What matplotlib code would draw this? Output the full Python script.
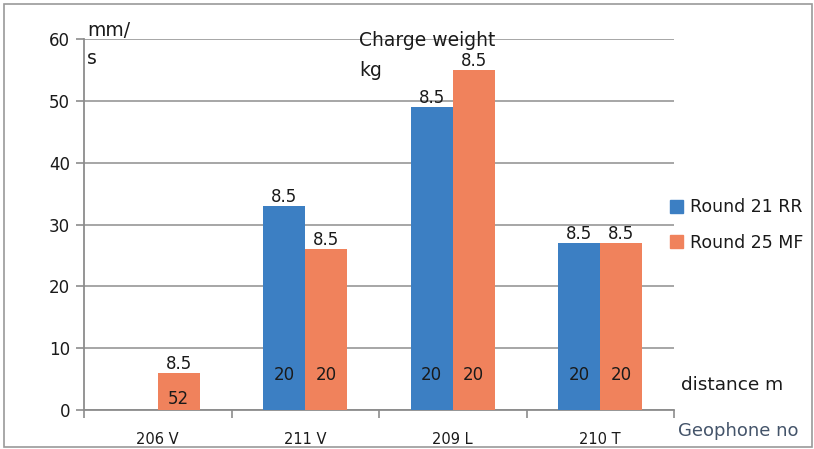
import numpy as np
import matplotlib.pyplot as plt
from matplotlib.patches import Rectangle, Patch

plt.rcParams['font.family'] = ['DejaVu Sans']

# data
geophones = ['206 V', '211 V', '209 L', '210 T']
round21 = [0, 33, 49, 27]
round25 = [6, 26, 55, 27]
charge21 = [None, '8.5', '8.5', '8.5']
charge25 = ['8.5', '8.5', '8.5', '8.5']
dist21 = [None, '20', '20', '20']
dist25 = ['52', '20', '20', '20']
series_names = ['Round 21 RR', 'Round 25 MF']

BLUE = '#3C7FC3'
ORANGE = '#F0825C'
GRID = '#A6A6A6'
TXT = '#1a1a1a'

W, H = 814, 449
fig = plt.figure(figsize=(W / 100, H / 100), dpi=100)
ax = fig.add_axes([84 / W, 1 - 410 / H, (674 - 84) / W, (410 - 39) / H])

x = np.arange(len(geophones))
bw = 0.285
ax.bar(x - bw / 2, round21, bw, color=BLUE, zorder=3)
ax.bar(x + bw / 2, round25, bw, color=ORANGE, zorder=3)

# labels: charge weight on top, distance inside near bottom
for i in range(len(geophones)):
    for off, vals, top in [(-bw / 2, round21, charge21), (bw / 2, round25, charge25)]:
        if top[i] is not None:
            ax.text(x[i] + off, vals[i] + 0.05, top[i], ha='center', va='bottom',
                    fontsize=12, color=TXT, zorder=4)
    if dist21[i] is not None:
        ax.text(x[i] - bw / 2, 5.6, dist21[i], ha='center', va='center',
                fontsize=12, color=TXT, zorder=4)
    ax.text(x[i] + bw / 2, 5.6 if dist25[i] == '20' else 1.8, dist25[i],
            ha='center', va='center', fontsize=12, color=TXT, zorder=4)

ax.set_ylim(0, 60)
ax.set_yticks(np.arange(0, 61, 10))
ax.set_xlim(-0.5, len(geophones) - 0.5)
ax.set_xticks(x)
ax.set_xticklabels(geophones, fontsize=10.5, color=TXT)
ax.set_xticks(np.arange(-0.5, len(geophones), 1.0), minor=True)
ax.tick_params(axis='x', which='major', length=0, pad=16)
ax.tick_params(axis='x', which='minor', length=6, color='#8C8C8C', width=1.2)
ax.tick_params(axis='y', length=6, color='#8C8C8C', width=1.2, labelsize=12,
               labelcolor=TXT, pad=4)
ax.grid(axis='y', color=GRID, linewidth=1.4, zorder=0)
for s in ['top', 'right']:
    ax.spines[s].set_visible(False)
for s in ['left', 'bottom']:
    ax.spines[s].set_color('#8C8C8C')
    ax.spines[s].set_linewidth(1.3)

# extra annotations
fig.text(87 / W, 1 - 30 / H, 'mm/', fontsize=13.5, color=TXT, va='center')
fig.text(87 / W, 1 - 58 / H, 's', fontsize=13.5, color=TXT, va='center')
fig.text(359 / W, 1 - 40 / H, 'Charge weight', fontsize=13.5, color=TXT, va='center')
fig.text(359 / W, 1 - 70 / H, 'kg', fontsize=13.5, color=TXT, va='center')
fig.text(681 / W, 1 - 385 / H, 'distance m', fontsize=13.3, color=TXT, va='center')
fig.text(678 / W, 1 - 431 / H, 'Geophone no', fontsize=13, color='#44546A', va='center')

handles = [Patch(color=BLUE), Patch(color=ORANGE)]
fig.legend(handles, series_names, loc='center left',
           bbox_to_anchor=(654 / W, 1 - 225 / H), frameon=False, fontsize=12.5,
           handlelength=0.75, handleheight=0.75, handletextpad=0.4, labelspacing=1.0,
           labelcolor=TXT)

# outer frame
fig.patches.append(Rectangle((4 / W, 2 / H), 808 / W, 443 / H, transform=fig.transFigure,
                             fill=False, edgecolor='#9A9A9A', linewidth=1.2))

fig.savefig('out.png', dpi=100)
